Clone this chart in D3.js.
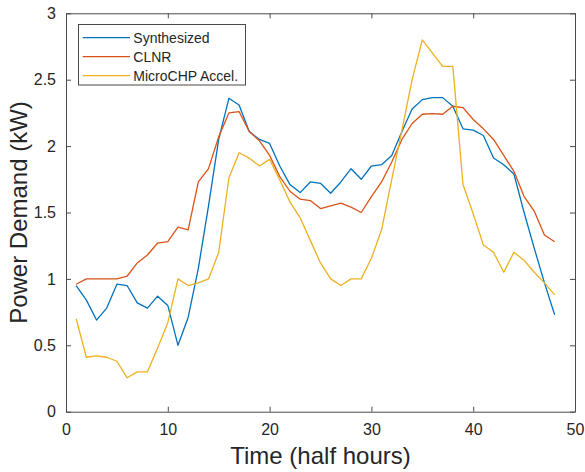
<!DOCTYPE html>
<html><head><meta charset="utf-8">
<script src="https://cdn.jsdelivr.net/npm/d3@7"></script>
<style>body{margin:0;background:#fff}svg{display:block}text{font-family:"Liberation Sans",Arial,sans-serif;fill:#262626}</style>
</head><body>
<script>
const timeSteps = d3.range(1, 49);
const synthesized = [0.95,0.84,0.69,0.78,0.96,0.95,0.82,0.78,0.87,0.80,
  0.50,0.71,1.08,1.55,2.05,2.36,2.31,2.11,2.05,2.02,
  1.85,1.71,1.65,1.73,1.72,1.645,1.73,1.83,1.75,1.85,
  1.86,1.93,2.11,2.28,2.35,2.365,2.365,2.30,2.13,2.12,
  2.08,1.91,1.86,1.79,1.50,1.23,0.97,0.73];
const clnr = [0.96,1.00,1.00,1.00,1.00,1.02,1.12,1.18,1.27,1.28,
  1.39,1.37,1.73,1.83,2.07,2.25,2.26,2.11,2.04,1.93,
  1.77,1.66,1.60,1.59,1.53,1.55,1.57,1.54,1.50,1.62,
  1.73,1.88,2.05,2.17,2.24,2.245,2.24,2.30,2.29,2.20,
  2.13,2.05,1.93,1.81,1.62,1.51,1.33,1.28];
const microCHP = [0.70,0.41,0.42,0.41,0.38,0.256,0.30,0.30,0.48,0.67,
  1.00,0.95,0.97,1.00,1.20,1.76,1.95,1.91,1.85,1.90,
  1.745,1.58,1.46,1.29,1.12,1.00,0.95,1.00,1.00,1.155,
  1.37,1.75,2.12,2.50,2.80,2.70,2.60,2.60,1.71,1.49,
  1.255,1.20,1.05,1.20,1.14,1.05,0.97,0.88];
const seriesNames = ["Synthesized","CLNR","MicroCHP Accel."];
const seriesColors = ["#0072BD","#D95319","#EDB120"];
const xTicks = [0,10,20,30,40,50];
const yTicks = [0,0.5,1,1.5,2,2.5,3];
const yTickLabels = ["0","0.5","1","1.5","2","2.5","3"];
const xLabel = "Time (half hours)";
const yLabel = "Power Demand (kW)";

const W = 585, H = 472;
const L = 66, R = 575, T = 13.3, B = 411.7;
const svg = d3.select("body").append("svg").attr("width", W).attr("height", H);
const x = d3.scaleLinear().domain([0,50]).range([L,R]);
const y = d3.scaleLinear().domain([0,3]).range([B,T]);
const axisColor = "#4a4a4a";

// lines
const line = d3.line().x((d,i)=>x(timeSteps[i])).y(d=>y(d));
[synthesized, clnr, microCHP].forEach((s,k)=>{
  svg.append("path").attr("d", line(s)).attr("fill","none")
    .attr("stroke", seriesColors[k]).attr("stroke-width",1.3).attr("stroke-linejoin","round");
});

// axes (ticks inward, box)
function styleAxis(g){
  g.select(".domain").attr("stroke", axisColor).attr("stroke-width",1);
  g.selectAll(".tick line").attr("stroke", axisColor).attr("stroke-width",1);
}
const xb = svg.append("g").attr("transform",`translate(0,${B})`)
  .call(d3.axisBottom(x).tickValues(xTicks).tickSize(-5).tickSizeOuter(0).tickPadding(12).tickFormat(d3.format("d")));
styleAxis(xb);
xb.selectAll("text").attr("font-size",16).attr("fill","#262626").style("font-family","Liberation Sans, Arial, sans-serif");
const xt = svg.append("g").attr("transform",`translate(0,${T})`)
  .call(d3.axisTop(x).tickValues(xTicks).tickSize(-5).tickSizeOuter(0).tickFormat(""));
styleAxis(xt);
const yl = svg.append("g").attr("transform",`translate(${L},0)`)
  .call(d3.axisLeft(y).tickValues(yTicks).tickSize(-5).tickSizeOuter(0).tickPadding(10).tickFormat((d,i)=>yTickLabels[i]));
styleAxis(yl);
yl.selectAll("text").attr("font-size",16).attr("fill","#262626").style("font-family","Liberation Sans, Arial, sans-serif");
const yr = svg.append("g").attr("transform",`translate(${R},0)`)
  .call(d3.axisRight(y).tickValues(yTicks).tickSize(-5).tickSizeOuter(0).tickFormat(""));
styleAxis(yr);

// axis labels
svg.append("text").attr("x",(L+R)/2).attr("y",463.5).attr("text-anchor","middle")
  .attr("font-size",24).text(xLabel);
svg.append("text").attr("transform",`translate(27,${(T+B)/2}) rotate(-90)`).attr("text-anchor","middle")
  .attr("font-size",24).text(yLabel);

// legend
const lg = svg.append("g");
lg.append("rect").attr("x",78.5).attr("y",24.5).attr("width",167).attr("height",60.5)
  .attr("fill","#fff").attr("stroke",axisColor).attr("stroke-width",1);
seriesNames.forEach((n,k)=>{
  const cy = 37.7 + k*19;
  lg.append("line").attr("x1",82.7).attr("x2",130).attr("y1",cy).attr("y2",cy)
    .attr("stroke",seriesColors[k]).attr("stroke-width",1.3);
  lg.append("text").attr("x",133.3).attr("y",cy).attr("dy","0.35em").attr("font-size",14).text(n);
});
</script>
</body></html>
